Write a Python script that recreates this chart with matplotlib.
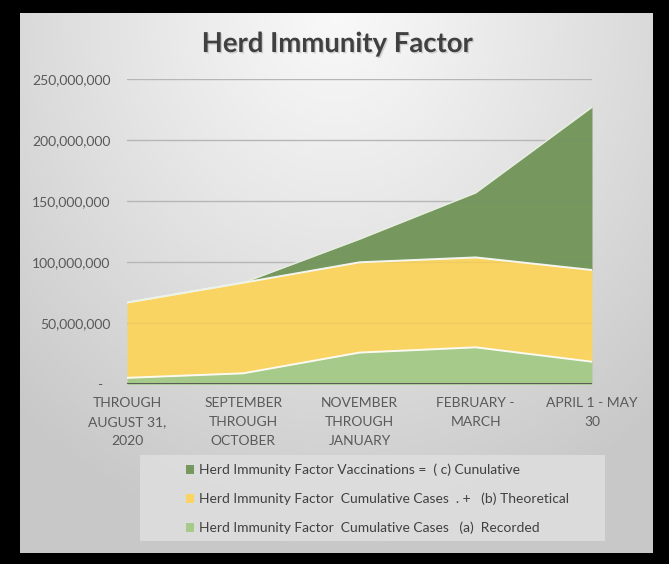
import numpy as np
import matplotlib
matplotlib.use("Agg")
import matplotlib.pyplot as plt
from matplotlib.patches import Rectangle, Patch
import matplotlib.patheffects as pe

# ---- data ----
categories = ["THROUGH\nAUGUST 31,\n2020", "SEPTEMBER\nTHROUGH\nOCTOBER",
              "NOVEMBER\nTHROUGH\nJANUARY", "FEBRUARY -\nMARCH", "APRIL 1 - MAY\n30"]
recorded = [5.3e6, 9.0e6, 26.0e6, 30.3e6, 18.5e6]
theoretical = [61.7e6, 74.3e6, 74.0e6, 73.7e6, 75.2e6]
vaccinations = [0.0, 0.0, 19.0e6, 53.0e6, 133.5e6]
yticks = [0, 50e6, 100e6, 150e6, 200e6, 250e6]
ytick_labels = ["-  ", "50,000,000", "100,000,000", "150,000,000", "200,000,000", "250,000,000"]
legend_labels = ["Herd Immunity Factor Vaccinations =  ( c) Cunulative",
                 "Herd Immunity Factor  Cumulative Cases  . +   (b) Theoretical",
                 "Herd Immunity Factor  Cumulative Cases   (a)  Recorded"]
title = "Herd Immunity Factor"

c_dark = "#76985F"
c_yel = "#F9D462"
c_light = "#A6CA89"
FONT = ["Lato", "DejaVu Sans"]
plt.rcParams["font.family"] = FONT

W, H = 669, 564
fig = plt.figure(figsize=(W / 100, H / 100), dpi=100, facecolor="black")

# background panel with radial gradient
px0, px1, py0, py1 = 20, 653, 13, 553
bg = fig.add_axes([px0 / W, 1 - py1 / H, (px1 - px0) / W, (py1 - py0) / H])
bg.set_axis_off()
nx, ny = px1 - px0, py1 - py0
xx, yy = np.meshgrid(np.arange(nx), np.arange(ny))
cx, cy = nx * 0.5, 0.0
d = np.sqrt(((xx - cx) / (nx * 0.75)) ** 2 + ((yy - cy) / (ny * 1.0)) ** 2)
d = np.clip(d, 0, 1)
val = 0.975 - 0.19 * d ** 1.1
img = np.dstack([val, val, val])
bg.imshow(img, aspect="auto", extent=[0, 1, 0, 1], origin="upper")
bg.set_xlim(0, 1); bg.set_ylim(0, 1)

# main axes
x0, x1, y0, y1 = 127, 592, 79.3, 384.3
ax = fig.add_axes([x0 / W, 1 - y1 / H, (x1 - x0) / W, (y1 - y0) / H])
ax.patch.set_alpha(0)
x = np.arange(len(categories))
s1 = np.array(recorded)
s2 = s1 + np.array(theoretical)
s3 = s2 + np.array(vaccinations)

for yv in yticks[1:]:
    ax.axhline(yv, color="#bdbdbd", lw=1.0, zorder=0)
ax.fill_between(x, s2, s3, color=c_dark, lw=0, zorder=1)
ax.fill_between(x, s1, s2, color=c_yel, lw=0, zorder=1)
ax.fill_between(x, 0, s1, color=c_light, lw=0, zorder=1)
for yv in yticks[1:]:
    ax.axhline(yv, color="#6a6a6a", lw=0.8, alpha=0.08, zorder=2)
ax.plot(x, s1, color="white", lw=1.4, alpha=0.9, zorder=3)
ax.plot(x, s2, color="white", lw=1.4, alpha=0.9, zorder=3)
ax.plot(x, s3, color="#e8f0e0", lw=1.2, alpha=0.8, zorder=3)
ax.axhline(0, color="#505050", lw=2.0, zorder=4)

ax.set_xlim(0, len(categories) - 1)
ax.set_ylim(0, 250e6)
ax.set_yticks(yticks)
ax.set_yticklabels(ytick_labels)
ax.set_xticks(x)
ax.set_xticklabels(categories, linespacing=1.7)
ax.tick_params(axis="both", length=0, colors="#595959", labelsize=10)
ax.tick_params(axis="y", pad=12)
ax.tick_params(axis="x", pad=9)
for sp in ax.spines.values():
    sp.set_visible(False)

# title
fig.text(337 / W, 1 - 44 / H, title, ha="center", va="center", fontsize=19.8,
         fontweight="bold", color="#404040",
         path_effects=[pe.withSimplePatchShadow(offset=(1.0, -1.0), shadow_rgbFace="#909090", alpha=0.35)])

# legend box
fig.patches.append(Rectangle((140 / W, 1 - 541 / H), 465 / W, 86 / H,
                             transform=fig.transFigure, facecolor="#e0e0e0",
                             edgecolor="none", alpha=0.8, zorder=1))
handles = [Patch(facecolor=c_dark), Patch(facecolor=c_yel), Patch(facecolor=c_light)]
leg = fig.legend(handles, legend_labels, loc="upper left",
                 bbox_to_anchor=(173 / W, 1 - 451 / H), frameon=False,
                 fontsize=10, labelcolor="#404040", handlelength=0.6,
                 handleheight=0.6, handletextpad=0.4, labelspacing=1.2)

fig.savefig("out.png", dpi=100, facecolor="black")
